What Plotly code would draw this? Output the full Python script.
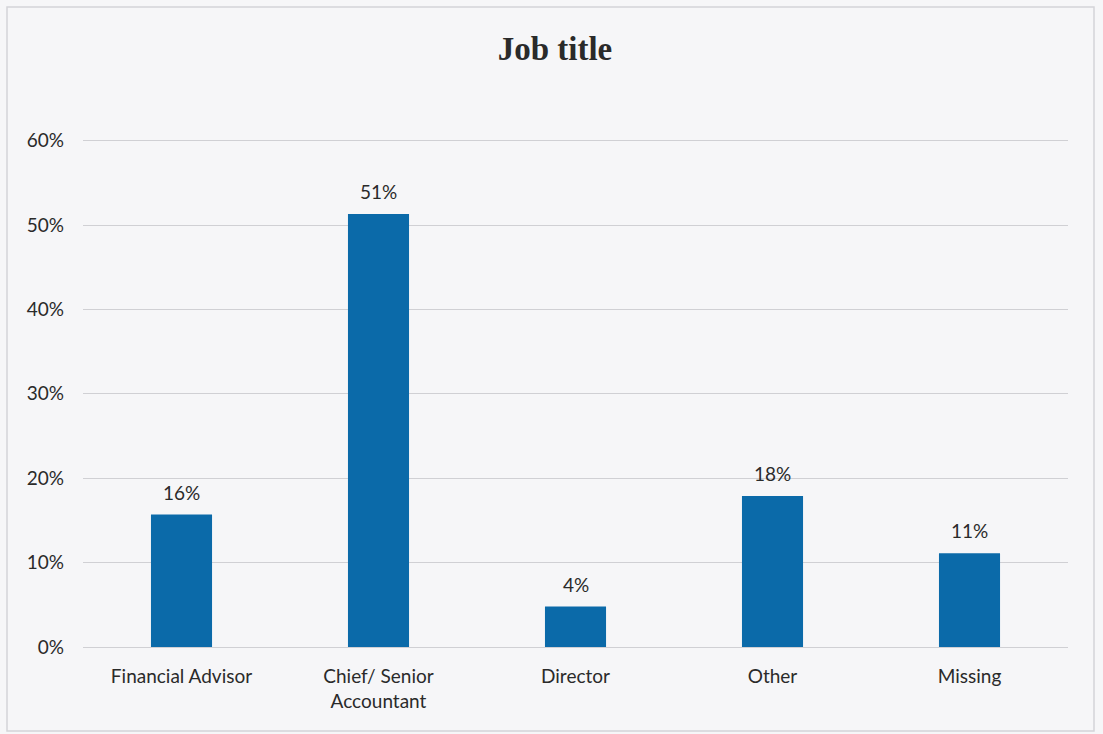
import plotly.graph_objects as go

categories = ["Financial Advisor", "Chief/ Senior<br>Accountant", "Director", "Other", "Missing"]
values = [0.157, 0.513, 0.048, 0.179, 0.111]
labels = ["16%", "51%", "4%", "18%", "11%"]
tick_vals = [0, 0.1, 0.2, 0.3, 0.4, 0.5, 0.6]
tick_text = ["0%", "10%", "20%", "30%", "40%", "50%", "60%"]

W, H = 1103, 734
L, R, T, B = 83, 35, 139, 87
pw, ph = W - L - R, H - T - B

FONT = "Lato, Open Sans, sans-serif"

fig = go.Figure()
fig.add_trace(go.Bar(
    x=categories, y=values,
    marker=dict(color="#0b6aa9", line=dict(width=0)),
    cliponaxis=False, width=0.31,
))

for c, v, t in zip(categories, values, labels):
    fig.add_annotation(x=c, y=v, text=t, showarrow=False, yanchor="bottom", yshift=9,
                       font=dict(family=FONT, size=19, color="#2a2a2a"))

def px(x):
    return (x - L) / pw

def py(y):
    return (H - B - y) / ph

fig.add_shape(type="rect", xref="paper", yref="paper",
              x0=px(7), x1=px(1094), y0=py(731), y1=py(7),
              line=dict(color="#d4d4d8", width=1.5), fillcolor="rgba(0,0,0,0)", layer="below")

fig.update_layout(
    width=W, height=H,
    margin=dict(l=L, r=R, t=T, b=B),
    paper_bgcolor="#f6f6f8", plot_bgcolor="#f6f6f8",
    title=dict(text="<b>Job title</b>", x=555 / W, xanchor="center", y=1 - 48 / H, yanchor="middle",
               font=dict(family="Liberation Serif, Times New Roman, serif", size=33, color="#2a2a2a")),
    showlegend=False,
    xaxis=dict(showgrid=False, showline=True, linecolor="#d0d0d4", linewidth=1,
               tickfont=dict(family=FONT, size=19, color="#2a2a2a"),
               ticks="", ticklabelstandoff=12, fixedrange=True),
    yaxis=dict(range=[0, 0.602], tickvals=tick_vals, ticktext=tick_text,
               showgrid=True, gridcolor="#d0d0d4", gridwidth=1, zeroline=False,
               showline=False, ticks="", ticklabelstandoff=18,
               tickfont=dict(family=FONT, size=19, color="#2a2a2a")),
    font=dict(family=FONT),
)

fig.write_html("out.html")
